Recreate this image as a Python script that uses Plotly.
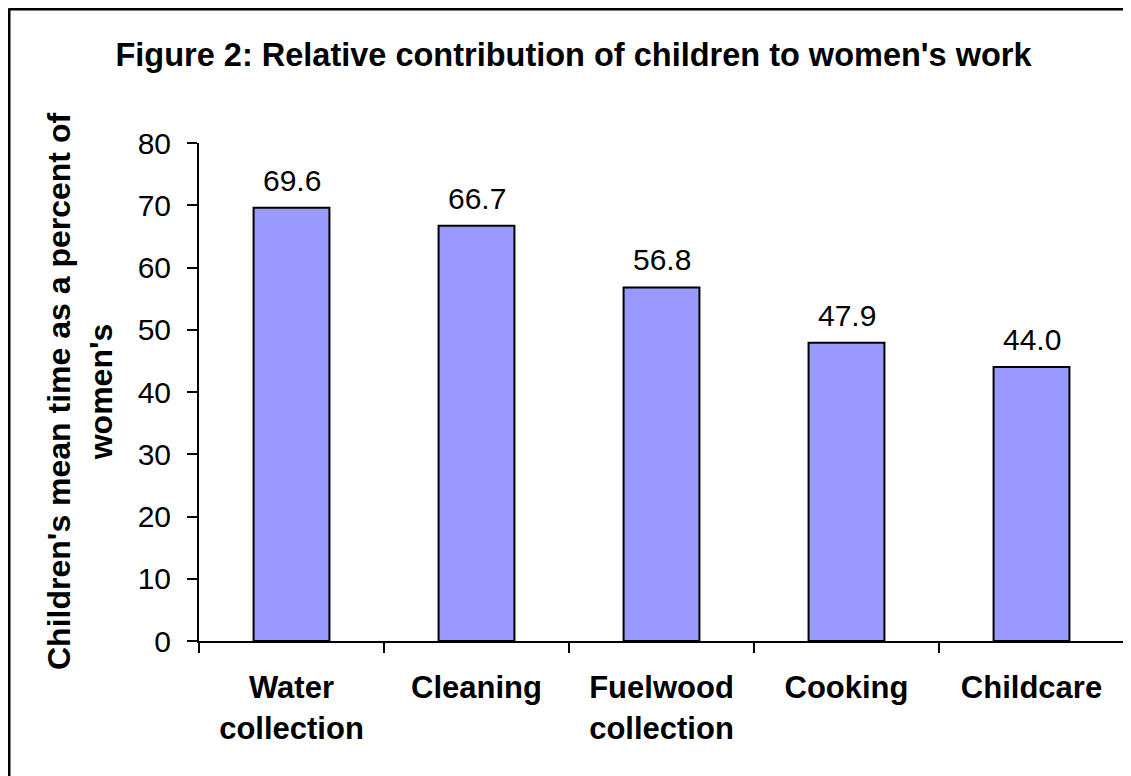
import plotly.graph_objects as go

categories = ["Water<br>collection", "Cleaning", "Fuelwood<br>collection", "Cooking", "Childcare"]
values = [69.6, 66.7, 56.8, 47.9, 44.0]
title_text = "Figure 2: Relative contribution of children to women's work"
y_title = "Children's mean time as a percent of<br>women's"

FONT = "Liberation Sans, Arial, sans-serif"
W, H = 1131, 776
ML, MR, MT, MB = 191, 15, 135, 143
PW, PH = W - ML - MR, H - MT - MB

fig = go.Figure()
fig.add_trace(go.Bar(
    x=categories, y=values,
    marker=dict(color="#9999FF", line=dict(color="black", width=2)),
    width=0.41,
    hoverinfo="skip",
))

for c, v in zip(categories, values):
    fig.add_annotation(x=c, y=v, text=f"{v:.1f}", showarrow=False,
                       yanchor="bottom", yshift=9,
                       font=dict(family=FONT, size=30, color="black"))

fig.add_annotation(x=(72 - ML) / PW, y=0.5, xref="paper", yref="paper",
                   text=y_title, textangle=-90, showarrow=False,
                   xanchor="center", yanchor="middle",
                   font=dict(family=FONT, size=32, color="black", weight="bold"))

# outer chart frame: left and top edges
bx0 = (0.5 - ML) / PW
by1 = 1 + (MT - 0.5) / PH
fig.add_shape(type="line", xref="paper", yref="paper",
              x0=bx0, x1=bx0, y0=-(MB + 20) / PH, y1=by1,
              line=dict(color="black", width=4), layer="below")
fig.add_shape(type="line", xref="paper", yref="paper",
              x0=bx0, x1=(W + 20 - ML) / PW, y0=by1, y1=by1,
              line=dict(color="black", width=4), layer="below")

fig.update_layout(
    width=W, height=H,
    margin=dict(l=ML, r=MR, t=MT, b=MB, autoexpand=False),
    paper_bgcolor="white", plot_bgcolor="white",
    showlegend=False,
    font=dict(family=FONT, color="black"),
    title=dict(text=title_text, x=0.5, y=1 - 47/H, xref="container", yref="container",
               xanchor="center", yanchor="middle",
               font=dict(family=FONT, size=32.5, color="black", weight="bold")),
    bargap=0.59,
)
fig.update_xaxes(
    showline=True, linecolor="black", linewidth=2,
    ticks="outside", tickson="boundaries", ticklen=10, tickwidth=2, tickcolor="black",
    tickfont=dict(family=FONT, size=31, color="black", weight="bold"),
    ticklabelstandoff=18,
    showgrid=False, zeroline=False, automargin=False,
)
fig.update_yaxes(
    range=[0, 80], dtick=10, tick0=0,
    showline=True, linecolor="black", linewidth=2,
    ticks="outside", ticklen=10, tickwidth=2, tickcolor="black",
    tickfont=dict(family=FONT, size=30, color="black"),
    ticklabelstandoff=10,
    showgrid=False, zeroline=False, automargin=False,
)

fig.write_html("out.html")
